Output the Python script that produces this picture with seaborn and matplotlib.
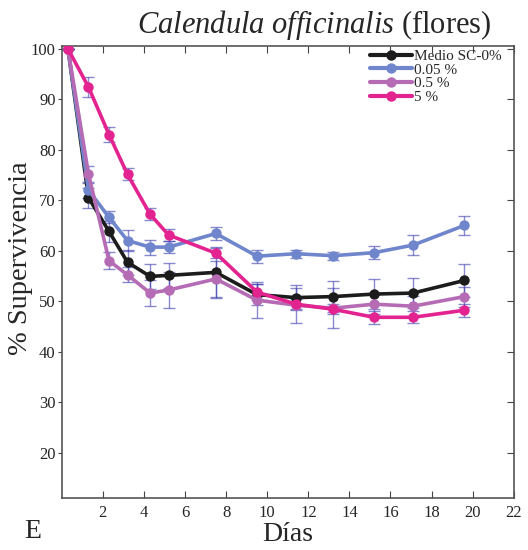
import numpy as np
import pandas as pd
import matplotlib
matplotlib.use("Agg")
import matplotlib.pyplot as plt
import seaborn as sns

dias = [0.3, 1.3, 2.3, 3.2, 4.3, 5.2, 7.5, 9.5, 11.4, 13.2, 15.2, 17.1, 19.6]
series_names = ["Medio SC-0%", "0.05 %", "0.5 %", "5 %"]
medio = [100, 70.5, 63.8, 57.7, 54.9, 55.1, 55.7, 51.3, 50.7, 50.9, 51.4, 51.6, 54.1]
c005 = [100, 72.0, 66.6, 62.0, 60.7, 60.7, 63.4, 58.9, 59.4, 59.0, 59.6, 61.1, 65.0]
c05 = [100, 75.2, 58.0, 55.2, 51.6, 52.2, 54.4, 50.2, 49.2, 48.6, 49.4, 49.0, 50.9]
c5 = [100, 92.4, 83.0, 75.1, 67.2, 63.1, 59.5, 51.8, 49.4, 48.4, 46.8, 46.8, 48.2]
err_medio = [0, 2.0, 2.0, 2.5, 2.5, 2.5, 5.0, 2.0, 2.5, 3.0, 3.0, 3.0, 3.2]
err_c005 = [0, 1.5, 1.2, 2.0, 1.5, 1.2, 1.3, 1.3, 0.8, 0.8, 1.3, 2.0, 1.8]
err_c05 = [0, 1.6, 1.7, 1.5, 2.5, 3.5, 3.5, 3.5, 3.5, 4.0, 2.0, 2.0, 2.0]
err_c5 = [0, 2.0, 1.5, 1.2, 1.2, 1.2, 1.0, 1.5, 1.0, 1.0, 1.3, 1.2, 1.3]
colors = ["#1c1c1c", "#6f86cc", "#b56cb5", "#e3238f"]

values = [medio, c005, c05, c5]
errors = [err_medio, err_c005, err_c05, err_c5]
df = pd.DataFrame({
    "Días": np.tile(dias, 4),
    "Supervivencia": np.concatenate(values),
    "err": np.concatenate(errors),
    "Serie": np.repeat(series_names, len(dias)),
})

sns.set_style("white")
plt.rcParams["font.family"] = ["Liberation Serif", "DejaVu Serif"]
plt.rcParams["mathtext.fontset"] = "custom"
plt.rcParams["mathtext.it"] = "Liberation Serif:italic"
plt.rcParams["mathtext.rm"] = "Liberation Serif"

fig = plt.figure(figsize=(5.28, 5.5), dpi=100)
ax = fig.add_axes([0.117, 0.0945, 0.856, 0.8215])

for name, col in zip(series_names, colors):
    sub = df[df["Serie"] == name]
    ax.errorbar(sub["Días"], sub["Supervivencia"], yerr=sub["err"], fmt="none",
                ecolor="#3c3cb0", alpha=0.6, elinewidth=1.0, capsize=4, capthick=1.0, zorder=1)

sns.lineplot(data=df, x="Días", y="Supervivencia", hue="Serie", hue_order=series_names,
             palette=colors, marker="o", markersize=7.5, markeredgewidth=0, linewidth=2.6,
             ax=ax, zorder=3)

ax.set_xlim(0, 22)
ax.set_ylim(11, 100.5)
ax.set_xticks(range(2, 23, 2))
ax.set_yticks(range(20, 101, 10))
ax.tick_params(axis="both", direction="in", labelsize=12, length=5, color="#444444",
               top=True, right=True, bottom=True, left=True, pad=5)
ax.tick_params(axis="y", which="both", left=True, direction="out", length=3, pad=1.5)
ax.tick_params(axis="y", right=True)
for t in ax.yaxis.get_major_ticks():
    t.tick2line.set_marker(matplotlib.lines.TICKLEFT)
    t.tick2line.set_markersize(5)
for s in ax.spines.values():
    s.set_color("#555555")
    s.set_linewidth(1.2)
ax.set_xlabel("Días", fontsize=20, labelpad=1)
ax.set_ylabel("% Supervivencia", fontsize=20.5, va="center")
ax.yaxis.set_label_coords(-0.092, 0.53)
fig.text(0.595, 0.955, r"$\mathit{Calendula\ officinalis}$ (flores)", fontsize=22,
         ha="center", va="center")

leg = ax.legend(loc="upper right", frameon=False, fontsize=11, handlelength=2.8,
                handletextpad=0.1, labelspacing=0.0, borderaxespad=0.1,
                bbox_to_anchor=(0.99, 1.01))
for h in leg.legend_handles:
    h.set_linewidth(3)

fig.text(0.045, 0.022, "E", fontsize=20)

fig.savefig("out.png", dpi=100)
